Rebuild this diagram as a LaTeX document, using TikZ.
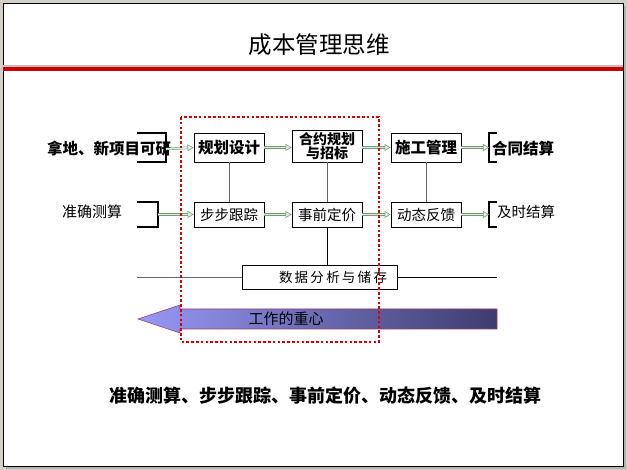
\documentclass[tikz,border=0pt]{standalone}
\usepackage{fontspec}
\setmainfont{Noto Sans CJK SC}
\usetikzlibrary{arrows.meta}
\definecolor{bggray}{RGB}{212,208,200}
\definecolor{redline}{RGB}{204,0,0}
\definecolor{dotred}{RGB}{220,0,0}
\definecolor{arrL}{RGB}{152,152,246}
\definecolor{arrR}{RGB}{62,60,110}
\definecolor{arrEdge}{RGB}{150,60,110}
\definecolor{garrow}{RGB}{120,150,120}
\definecolor{gfill}{RGB}{215,240,215}
\tikzset{
  box/.style={draw=black, line width=0.9pt, fill=white, inner sep=0pt, align=center},
  plain/.style={inner sep=0pt, align=center},
  conn/.style={draw=gray!80!black, line width=0.8pt},
  garr/.style={draw=garrow, line width=0.5pt, double=gfill, double distance=1.6pt,
    -{Triangle[open, length=6pt, width=7pt, fill=gfill]}},
  brk/.style={draw=black, line width=1.1pt},
}
\begin{document}
\begin{tikzpicture}[x=1pt,y=-1pt]
\useasboundingbox (0,0) rectangle (627,470);
\fill[bggray] (0,0) rectangle (627,470);
\fill[gray!60] (6,6) rectangle (626,469);
\draw[black, line width=0.8pt, fill=white] (3,3) rectangle (623,466);
% title
\node[plain, font=\fontsize{23.5}{26}\selectfont] (title) at (319,45) {成本管理思维};
\fill[gray!50] (3,65.5) rectangle (623,67);
\fill[redline] (3,67) rectangle (623,71);

% left brackets
\draw[brk] (137,133) -- (166,133) -- (166,162) -- (137,162);
\coordinate (b1) at (166,149);
\node[plain, font=\bfseries\fontsize{15.5}{18}\selectfont, anchor=west] (t1) at (47,149) {拿地、新项目可研};
\draw[brk] (137,202) -- (158,202) -- (158,227) -- (137,227);
\coordinate (b2) at (158,214.5);
\node[plain, font=\fontsize{15}{18}\selectfont] (t2) at (92,212) {准确测算};

% boxes
\node[box, minimum width=70pt, minimum height=29pt, font=\bfseries\fontsize{15.5}{18}\selectfont] (gh) at (229,147.5) {规划设计};
\node[box, minimum width=70pt, minimum height=32pt, font=\bfseries\fontsize{14}{14}\selectfont] (hy) at (327,146) {合约规划\\[-0.5pt]与招标};
\node[box, minimum width=70pt, minimum height=29pt, font=\bfseries\fontsize{15.5}{18}\selectfont] (sg) at (426,147.5) {施工管理};
\node[box, minimum width=70pt, minimum height=25pt, font=\fontsize{14.5}{18}\selectfont] (bb) at (229,214.5) {步步跟踪};
\node[box, minimum width=70pt, minimum height=25pt, font=\fontsize{14.5}{18}\selectfont] (sq) at (327,214.5) {事前定价};
\node[box, minimum width=70pt, minimum height=25pt, font=\fontsize{14.5}{18}\selectfont] (dt) at (426,214.5) {动态反馈};

% right brackets
\draw[brk] (497,133) -- (489,133) -- (489,162) -- (497,162);
\coordinate (c1) at (489,147.5);
\node[plain, font=\bfseries\fontsize{15.5}{18}\selectfont, anchor=west] (t3) at (492,149) {合同结算};
\draw[brk] (497,202) -- (489,202) -- (489,227) -- (497,227);
\coordinate (c2) at (489,214.5);
\node[plain, font=\fontsize{14.5}{18}\selectfont, anchor=west] (t4) at (497,212) {及时结算};

% vertical connectors
\draw[conn] (gh.south) -- (bb.north);
\draw[conn] (hy.south) -- (sq.north);
\draw[conn] (sg.south) -- (dt.north);

% data box
\node[box, line width=0.8pt, minimum width=155pt, minimum height=24pt] (sj) at (319.5,277) {};
\node[plain, font=\fontsize{13.5}{16}\selectfont] (sjt) at (333,277) {数\,据\,分\,析\,与\,储\,存};
\draw[black, line width=0.9pt] (sq.south) -- (sj.north -| sq.south);
\coordinate (l1) at (137,277);
\coordinate (l2) at (497,277);
\draw[conn] (l1) -- (sj.west);
\draw[black, line width=0.6pt] (sj.east) -- (l2);

% horizontal arrows
\draw[garr] (b1) -- (gh.west);
\draw[garr] (gh.east) -- (hy.west |- gh.east);
\draw[garr] (hy.east |- sg.west) -- (sg.west);
\draw[garr] (sg.east) -- (c1);
\draw[garr] (b2) -- (bb.west);
\draw[garr] (bb.east) -- (sq.west);
\draw[garr] (sq.east) -- (dt.west);
\draw[garr] (dt.east) -- (c2);

% big arrow
\path[draw=arrEdge, line width=0.6pt, left color=arrL, right color=arrR]
  (138,319) -- (180,305) -- (180,309) -- (497,309) -- (497,329) -- (180,329) -- (180,333) -- cycle;
\node[plain, font=\fontsize{15}{18}\selectfont] (gz) at (286,318.5) {工作的重心};

% red dotted frame
\draw[dotred, line width=2.6pt, dash pattern=on 2.6pt off 2.2pt] (181,117) rectangle (379,342);

% bottom text
\node[plain, font=\bfseries\fontsize{18}{20}\selectfont] (bt) at (325,396) {准确测算、步步跟踪、事前定价、动态反馈、及时结算};
\end{tikzpicture}
\end{document}
